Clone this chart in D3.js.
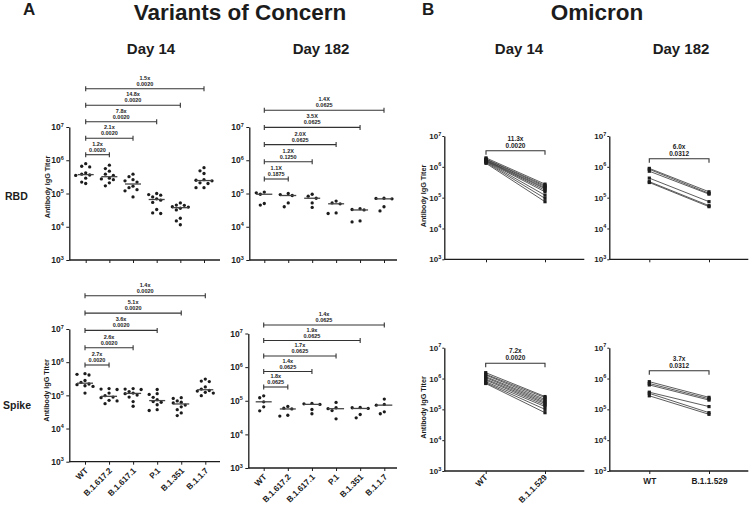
<!DOCTYPE html>
<html><head><meta charset="utf-8">
<script src="https://cdn.jsdelivr.net/npm/d3@7"></script>
<style>
body{margin:0;background:#fff}
text{font-family:"Liberation Sans",Arial,Helvetica,sans-serif;font-weight:bold;fill:#1c1c1c}
</style>
</head><body>
<svg id="chart" width="750" height="505"></svg>
<script>
// ---------------- DATA ----------------
const vocCategories = ["WT","B.1.617.2","B.1.617.1","P.1","B.1.351","B.1.1.7"];
const omiCategories = ["WT","B.1.1.529"];
const yTickValues = [1e3,1e4,1e5,1e6,1e7];

const rbdDay14 = [
  [7.9e5,6.6e5,6.3e5,4.2e5,3.8e5,3.6e5,3.5e5,2.9e5,2.2e5,2.0e5],
  [7.1e5,5.6e5,4.7e5,3.8e5,3.5e5,2.9e5,2.75e5,2.6e5,2.1e5,1.7e5],
  [3.8e5,3.2e5,2.6e5,2.4e5,2.2e5,1.66e5,1.5e5,1.3e5,1.2e5,7.9e4],
  [1.0e5,9.3e4,8.9e4,7.9e4,6.9e4,6.3e4,5.4e4,3.3e4,2.6e4,2.5e4],
  [5.2e4,4.5e4,4.4e4,4.0e4,3.9e4,3.6e4,3.2e4,1.8e4,1.5e4,1.15e4],
  [6.0e5,4.8e5,4.0e5,2.6e5,2.5e5,2.4e5,2.1e5,2.0e5,1.5e5,1.5e5]
];
const rbdDay182 = [
  [1.1e5,1.05e5,9.5e4,5.0e4,4.5e4],
  [1.0e5,9.3e4,8.7e4,5.2e4,4.0e4],
  [9.5e4,8.3e4,7.2e4,5.2e4,3.8e4],
  [5.9e4,5.2e4,4.9e4,2.6e4,2.5e4],
  [3.5e4,3.3e4,3.2e4,1.5e4,1.4e4],
  [7.2e4,7.1e4,6.9e4,4.0e4,3.0e4]
];
const spikeDay14 = [
  [4.5e5,4.3e5,4.1e5,2.8e5,2.45e5,2.2e5,2.1e5,1.95e5,1.86e5,1.17e5],
  [1.6e5,1.55e5,1.5e5,1.17e5,9.8e4,8.9e4,8.5e4,7.1e4,6.8e4,5.6e4],
  [1.6e5,1.55e5,1.5e5,1.3e5,1.17e5,1.12e5,1.02e5,8.9e4,6.5e4,4.7e4],
  [1.5e5,1.12e5,1.07e5,8.7e4,7.4e4,6.5e4,6.2e4,5.2e4,3.7e4,3.5e4],
  [8.5e4,8.1e4,6.8e4,6.2e4,5.9e4,5.1e4,4.5e4,3.7e4,2.95e4,2.45e4],
  [3.1e5,2.7e5,2.6e5,1.8e5,1.55e5,1.4e5,1.35e5,1.23e5,1.17e5,9.8e4]
];
const spikeDay182 = [
  [1.4e5,1.23e5,9.3e4,6.6e4,5.0e4],
  [6.8e4,6.0e4,5.7e4,3.7e4,3.5e4],
  [8.3e4,8.1e4,7.8e4,5.5e4,4.1e4],
  [8.9e4,6.2e4,5.8e4,5.1e4,2.9e4],
  [6.3e4,6.2e4,5.9e4,3.9e4,3.1e4],
  [1.12e5,7.8e4,7.4e4,4.7e4,4.1e4]
];

const rbd14Folds = ["1.2x","2.1x","7.8x","14.8x","1.5x"];
const rbd14P = ["0.0020","0.0020","0.0020","0.0020","0.0020"];
const rbd182Folds = ["1.1X","1.2X","2.0X","3.5X","1.4X"];
const rbd182P = ["0.1875","0.1250","0.0625","0.0625","0.0625"];
const spike14Folds = ["2.7x","2.6x","3.6x","5.1x","1.4x"];
const spike14P = ["0.0020","0.0020","0.0020","0.0020","0.0020"];
const spike182Folds = ["1.8x","1.4x","1.7x","1.9x","1.4x"];
const spike182P = ["0.0625","0.0625","0.0625","0.0625","0.0625"];

const omiRbd14WT   = [1.95e6,1.8e6,1.75e6,1.65e6,1.6e6,1.55e6,1.5e6,1.45e6,1.38e6,1.3e6];
const omiRbd14Omi  = [2.75e5,2.5e5,2.3e5,2.1e5,1.95e5,1.75e5,1.55e5,1.2e5,9.5e4,7.4e4];
const omiRbd182WT  = [8.9e5,8.3e5,7.2e5,4.3e5,3.3e5,3.1e5];
const omiRbd182Omi = [1.55e5,1.38e5,1.3e5,7.4e4,5.5e4,5.1e4];
const omiSpike14WT  = [1.55e6,1.38e6,1.3e6,1.15e6,1.07e6,9.6e5,8.9e5,7.9e5,7.3e5,6.9e5];
const omiSpike14Omi = [2.6e5,2.4e5,2.1e5,1.9e5,1.7e5,1.55e5,1.38e5,1.23e5,1.0e5,7.8e4];
const omiSpike182WT  = [7.9e5,6.9e5,6.2e5,3.6e5,3.3e5,2.75e5];
const omiSpike182Omi = [2.45e5,2.2e5,2.0e5,1.23e5,7.8e4,6.9e4];
const omiFolds = ["11.3x","6.0x","7.2x","3.7x"];
const omiP = ["0.0020","0.0312","0.0020","0.0312"];

// ---------------- DRAWING ----------------
const svg = d3.select("#chart");
const INK = "#1c1c1c";

function yAxis(g, y, ax, tight) {
  const a = d3.axisLeft(y).tickValues(yTickValues).tickSize(tight ? 2 : 3).tickSizeOuter(0).tickPadding(tight ? 1 : 2.5);
  const sel = g.append("g").attr("transform", `translate(${ax},0)`).call(a);
  sel.select(".domain").attr("stroke", INK).attr("stroke-width", 1.3);
  sel.selectAll(".tick line").attr("stroke", INK).attr("stroke-width", 1);
  sel.selectAll(".tick text").each(function(d) {
    const t = d3.select(this);
    t.text(null).attr("font-size", tight ? 8 : 8.5).attr("font-family", null).attr("fill", INK);
    t.append("tspan").text("10");
    t.append("tspan").attr("dy", -3.5).attr("font-size", 5.5).text(Math.round(Math.log10(d)));
  });
}

function xAxis(g, x, ax, xEnd, yb, rotate, rotShift) {
  const a = d3.axisBottom(x).tickSize(3).tickSizeOuter(0);
  const sel = g.append("g").attr("transform", `translate(0,${yb})`).call(a);
  sel.select(".domain").remove();
  sel.append("line").attr("x1", ax).attr("x2", xEnd).attr("stroke", INK).attr("stroke-width", 1.3);
  sel.selectAll(".tick line").attr("stroke", INK).attr("stroke-width", 1);
  const txt = sel.selectAll(".tick text").attr("font-size", 8.3).attr("font-family", null).attr("fill", INK);
  if (rotate === "rot") {
    txt.attr("text-anchor", "end").attr("y", 0).attr("dy", 0)
       .attr("transform", `translate(${rotShift[0]},${rotShift[1]}) rotate(-45)`);
  } else if (rotate === "flat") {
    txt.attr("y", 7).attr("dy", "0.71em");
  } else {
    txt.remove();
  }
}

function beeswarm(vals, y, r) {
  const sorted = vals.map((v, i) => ({v, i, py: y(v)})).sort((a, b) => a.py - b.py);
  const cands = [0, -4, 4, -8, 8, -2, 2, -6, 6, -10, 10];
  const placed = [];
  sorted.forEach(p => {
    for (const c of cands) {
      if (placed.every(q => Math.hypot(q.dx - c, q.py - p.py) >= 2 * r + 0.9)) { p.dx = c; break; }
    }
    if (p.dx === undefined) p.dx = 0;
    placed.push(p);
  });
  return placed;
}

function yTitle(x, yc) {
  svg.append("text").attr("transform", `translate(${x},${yc}) rotate(-90)`)
     .attr("text-anchor", "middle").attr("dy", "0.35em").attr("font-size", 7.2).text("Antibody IgG Titer");
}

function vocPanel(cfg, data, folds, ps) {
  const g = svg.append("g");
  const x = d3.scalePoint().domain(vocCategories).range([cfg.t0, cfg.t1]);
  const y = d3.scaleLog().domain([1e3, 1e7]).range([cfg.y3, cfg.y7]);
  yAxis(g, y, cfg.ax, false);
  xAxis(g, x, cfg.ax, cfg.xEnd, cfg.y3, cfg.labels, [3, 9.5]);
  const r = 1.65;
  vocCategories.forEach((cat, ci) => {
    const pts = beeswarm(data[ci], y, r);
    g.append("g").selectAll("circle").data(pts).join("circle")
      .attr("cx", d => x(cat) + d.dx).attr("cy", d => d.py).attr("r", r).attr("fill", INK);
    const med = d3.median(data[ci]);
    g.append("line").attr("x1", x(cat) - 8).attr("x2", x(cat) + 8)
      .attr("y1", y(med)).attr("y2", y(med)).attr("stroke", "#444").attr("stroke-width", 1.3);
  });
  folds.forEach((f, i) => {
    const by = cfg.b0 - i * cfg.bStep;
    const x1 = x(vocCategories[0]), x2 = x(vocCategories[i + 1]);
    const bg = g.append("g").attr("stroke", "#333").attr("stroke-width", 1.1);
    bg.append("line").attr("x1", x1).attr("x2", x2).attr("y1", by).attr("y2", by);
    bg.append("line").attr("x1", x1).attr("x2", x1).attr("y1", by - 2.5).attr("y2", by + 2.5);
    bg.append("line").attr("x1", x2).attr("x2", x2).attr("y1", by - 2.5).attr("y2", by + 2.5);
    const mx = (x1 + x2) / 2;
    g.append("text").attr("x", mx).attr("y", by - 9).attr("text-anchor", "middle").attr("font-size", 5.5).text(f);
    g.append("text").attr("x", mx).attr("y", by - 3).attr("text-anchor", "middle").attr("font-size", 5.5).text(ps[i]);
  });
}

function omiPanel(cfg, wt, omi, fold, p) {
  const g = svg.append("g");
  const x = d3.scalePoint().domain(omiCategories).range([cfg.t0, cfg.t1]);
  const y = d3.scaleLog().domain([1e3, 1e7]).range([cfg.y3, cfg.y7]);
  yAxis(g, y, cfg.ax, true);
  xAxis(g, x, cfg.ax, cfg.xEnd, cfg.y3, cfg.labels, [2, 7]);
  const pairs = wt.map((v, i) => [v, omi[i]]);
  g.append("g").selectAll("line").data(pairs).join("line")
    .attr("x1", x("WT")).attr("x2", x("B.1.1.529"))
    .attr("y1", d => y(d[0])).attr("y2", d => y(d[1]))
    .attr("stroke", "#333").attr("stroke-width", 0.8);
  const pts = pairs.flatMap(d => [[x("WT"), y(d[0])], [x("B.1.1.529"), y(d[1])]]);
  g.append("g").selectAll("rect").data(pts).join("rect")
    .attr("x", d => d[0] - 1.6).attr("y", d => d[1] - 1.6).attr("width", 3.2).attr("height", 3.2).attr("fill", INK);
  const x1 = x("WT"), x2 = x("B.1.1.529"), by = cfg.by;
  g.append("path").attr("d", `M${x1},${by + 4}V${by}H${x2}V${by + 4}`)
    .attr("fill", "none").attr("stroke", "#333").attr("stroke-width", 1.1);
  g.append("text").attr("x", (x1 + x2) / 2).attr("y", by - 10).attr("text-anchor", "middle").attr("font-size", 6.5).text(fold);
  g.append("text").attr("x", (x1 + x2) / 2).attr("y", by - 3).attr("text-anchor", "middle").attr("font-size", 6.5).text(p);
}

// Titles
svg.append("text").attr("x", 23).attr("y", 15).attr("font-size", 17).text("A");
svg.append("text").attr("x", 422).attr("y", 15).attr("font-size", 17).text("B");
svg.append("text").attr("x", 240).attr("y", 20).attr("text-anchor", "middle").attr("font-size", 22.5).text("Variants of Concern");
svg.append("text").attr("x", 597).attr("y", 20).attr("text-anchor", "middle").attr("font-size", 22.5).text("Omicron");
[["Day 14",151],["Day 182",321],["Day 14",519],["Day 182",681]].forEach(d =>
  svg.append("text").attr("x", d[1]).attr("y", 54).attr("text-anchor", "middle").attr("font-size", 15).text(d[0]));
svg.append("text").attr("x", 5).attr("y", 200).attr("font-size", 10.5).text("RBD");
svg.append("text").attr("x", 3).attr("y", 409).attr("font-size", 10.5).text("Spike");

// VOC panels
vocPanel({ax:69.3, xEnd:220, t0:85.7, t1:204, y3:260, y7:127, b0:154.7, bStep:16.5, labels:"none"}, rbdDay14, rbd14Folds, rbd14P);
vocPanel({ax:249.3, xEnd:397, t0:264.3, t1:384, y3:260, y7:127, b0:179, bStep:17.2, labels:"none"}, rbdDay182, rbd182Folds, rbd182P);
vocPanel({ax:69.3, xEnd:220, t0:85, t1:205.3, y3:461.7, y7:329, b0:365, bStep:17.3, labels:"rot"}, spikeDay14, spike14Folds, spike14P);
vocPanel({ax:248.3, xEnd:397, t0:263.7, t1:384.3, y3:468, y7:333.5, b0:387, bStep:15.5, labels:"rot"}, spikeDay182, spike182Folds, spike182P);

// Omicron panels
omiPanel({ax:444.3, xEnd:584.3, t0:486, t1:545, y3:259.3, y7:136, by:150.7, labels:"none"}, omiRbd14WT, omiRbd14Omi, omiFolds[0], omiP[0]);
omiPanel({ax:609.3, xEnd:748.3, t0:649.3, t1:709, y3:259.3, y7:136, by:158.7, labels:"none"}, omiRbd182WT, omiRbd182Omi, omiFolds[1], omiP[1]);
omiPanel({ax:444.3, xEnd:584.3, t0:485.7, t1:545, y3:471, y7:347.7, by:363.3, labels:"rot"}, omiSpike14WT, omiSpike14Omi, omiFolds[2], omiP[2]);
omiPanel({ax:609.3, xEnd:748.3, t0:649.3, t1:709, y3:471, y7:347.7, by:370.7, labels:"flat"}, omiSpike182WT, omiSpike182Omi, omiFolds[3], omiP[3]);

yTitle(47.3, 187);
yTitle(46.7, 390.5);
yTitle(423.5, 196);
yTitle(423.5, 407.5);
</script>
</body></html>
